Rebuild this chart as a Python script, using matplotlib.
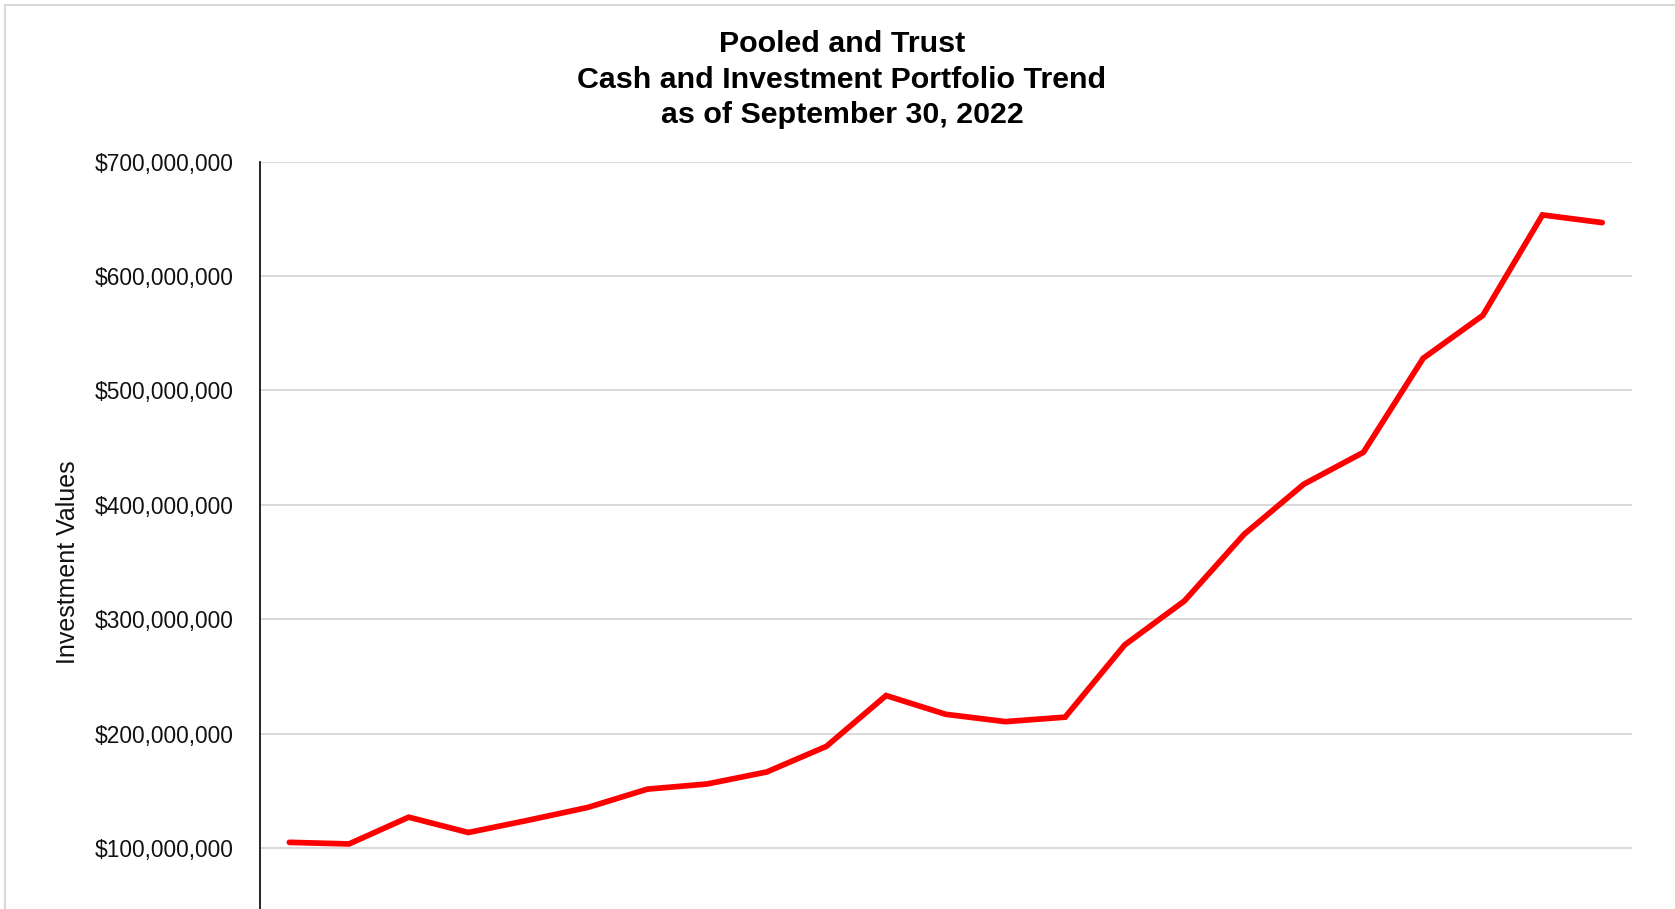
import matplotlib
matplotlib.use("Agg")
import matplotlib.pyplot as plt
from matplotlib.ticker import FuncFormatter
from matplotlib.patches import Rectangle

plt.rcParams['font.family'] = ['Liberation Sans', 'DejaVu Sans']

# Quarter-end periods (the x labels fall outside the visible area of the reference)
periods = ["Mar-17", "Jun-17", "Sep-17", "Dec-17",
           "Mar-18", "Jun-18", "Sep-18", "Dec-18",
           "Mar-19", "Jun-19", "Sep-19", "Dec-19",
           "Mar-20", "Jun-20", "Sep-20", "Dec-20",
           "Mar-21", "Jun-21", "Sep-21", "Dec-21",
           "Mar-22", "Jun-22", "Sep-22"]
values = [105.0e6, 103.6e6, 127.0e6, 113.6e6, 124.3e6, 135.5e6, 151.5e6, 156.0e6,
          166.5e6, 188.9e6, 233.3e6, 216.9e6, 210.5e6, 214.4e6, 277.6e6, 316.0e6,
          374.2e6, 418.0e6, 445.9e6, 528.0e6, 565.5e6, 653.3e6, 646.6e6]
yticks = [100e6, 200e6, 300e6, 400e6, 500e6, 600e6, 700e6]
title_lines = ["Pooled and Trust",
               "Cash and Investment Portfolio Trend",
               "as of September 30, 2022"]

W, H = 1675, 909
fig = plt.figure(figsize=(W / 100, H / 100), dpi=100)

# outer light-grey frame (extends past the cropped right/bottom edges)
fig.patches.append(Rectangle((5 / W, -0.1), 1.2, 1 - 5 / H + 0.1, transform=fig.transFigure,
                             fill=False, edgecolor='#d9d9d9', linewidth=1.5, zorder=0))

left, right, top, bottom = 259.5, 1632, 161.5, 962.5
ax = fig.add_axes([left / W, 1 - bottom / H, (right - left) / W, (bottom - top) / H])

x = list(range(len(periods)))
ax.plot(x, values, color='#ff0000', linewidth=4.1, solid_capstyle='round',
        solid_joinstyle='miter', zorder=3)

ax.set_xlim(-0.5, len(periods) - 0.5)
ax.set_ylim(0, 700e6)
ax.set_yticks(yticks)
ax.yaxis.set_major_formatter(FuncFormatter(lambda v, p: f"${v:,.0f}"))
ax.set_xticks(x)

ax.grid(axis='y', color='#d9d9d9', linewidth=1.4)
ax.set_axisbelow(True)
ax.tick_params(axis='y', length=0, pad=18.5, labelsize=16.4, labelcolor='#111111')
ax.tick_params(axis='x', length=0, labelbottom=False)

for s in ['top', 'right']:
    ax.spines[s].set_visible(False)
ax.spines['left'].set_color('black')
ax.spines['left'].set_linewidth(1.2)
ax.spines['bottom'].set_color('#d9d9d9')

ax.set_ylabel("Investment Values", fontsize=18, color='#111111')
ax.yaxis.set_label_coords((68 - left) / (right - left), 0.5)
ax.yaxis.label.set_verticalalignment('center')

title_y = [41.5, 77.5, 112.0]
for line, yy in zip(title_lines, title_y):
    fig.text(842 / W, 1 - yy / H, line, ha='center', va='center_baseline',
             fontsize=21.9, fontweight='bold', color='black')

fig.savefig("out.png", dpi=100)
